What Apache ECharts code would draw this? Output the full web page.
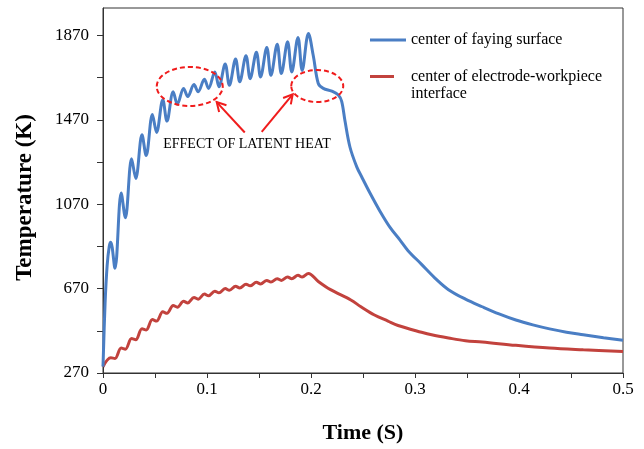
<!DOCTYPE html>
<html><head><meta charset="utf-8">
<script src="https://cdn.jsdelivr.net/npm/echarts@6/dist/echarts.min.js"></script>
<style>html,body{margin:0;padding:0;background:#fff}#c{width:644px;height:449px}</style>
</head><body><div id="c"></div>
<script>
// ---- data (time in s, temperature in K) ----
const blueName = 'center of faying surface';
const redName = 'center of electrode-workpiece interface';

const tBlue = [0, 0.002, 0.004, 0.006, 0.0075, 0.0115, 0.0175, 0.0215, 0.0275, 0.0315,
  0.0375, 0.0415, 0.0475, 0.0515, 0.0575, 0.0615, 0.0675, 0.0715, 0.0775, 0.0815,
  0.0875, 0.0915, 0.0975, 0.1015, 0.1075, 0.1115, 0.1175, 0.1215, 0.1275, 0.1315,
  0.1375, 0.1415, 0.1475, 0.1515, 0.1575, 0.1615, 0.1675, 0.1715, 0.1775, 0.1815,
  0.1875, 0.1915, 0.1975, 0.2022, 0.207, 0.2118, 0.22, 0.2263, 0.2295, 0.2327,
  0.2375, 0.244, 0.2487, 0.2567, 0.2663, 0.276, 0.2856, 0.2933, 0.3063, 0.3192,
  0.3322, 0.3485, 0.3646, 0.3808, 0.397, 0.4133, 0.4294, 0.4457, 0.4618, 0.4813, 0.5];
const tempBlue = [300, 600, 780, 870, 890, 766, 1123, 1006, 1285, 1192,
  1399, 1301, 1495, 1410, 1565, 1464, 1603, 1544, 1619, 1580,
  1637, 1603, 1662, 1619, 1697, 1627, 1735, 1634, 1758, 1650,
  1774, 1665, 1790, 1673, 1813, 1681, 1828, 1689, 1840, 1697,
  1860, 1704, 1879, 1774, 1642, 1619, 1606, 1588, 1557, 1464,
  1340, 1247, 1200, 1123, 1037, 960, 900, 850, 785, 720,
  665, 620, 584, 550, 521, 498, 479, 463, 451, 437, 425];

const tRed = [0, 0.0075, 0.0115, 0.0175, 0.0215, 0.0275, 0.0315, 0.0375, 0.0415, 0.0475,
  0.0515, 0.0575, 0.0615, 0.0675, 0.0715, 0.0775, 0.0815, 0.0875, 0.0915, 0.0975,
  0.1015, 0.1075, 0.1115, 0.1175, 0.1215, 0.1275, 0.1315, 0.1375, 0.1415, 0.1475,
  0.1515, 0.1575, 0.1615, 0.1675, 0.1715, 0.1775, 0.1815, 0.1875, 0.1915, 0.1975,
  0.207, 0.2188, 0.2383, 0.248, 0.261, 0.274, 0.2837, 0.3063, 0.316, 0.3322,
  0.3485, 0.3646, 0.397, 0.4294, 0.4618, 0.5];
const tempRed = [300, 342, 339, 388, 383, 433, 428, 480, 474, 523,
  516, 560, 553, 590, 582, 610, 602, 628, 620, 644,
  636, 658, 650, 670, 662, 681, 673, 691, 683, 700,
  692, 709, 701, 717, 709, 725, 717, 733, 725, 742,
  704, 665, 616, 584, 545, 516, 495, 463, 451, 436,
  423, 417, 401, 388, 380, 372];

const yLabels = [270, 670, 1070, 1470, 1870];
const yTicks = [270, 470, 670, 870, 1070, 1270, 1470, 1670, 1870];
const xLabels = [0, 0.1, 0.2, 0.3, 0.4, 0.5];
const xTicks = [0, 0.05, 0.1, 0.15, 0.2, 0.25, 0.3, 0.35, 0.4, 0.45, 0.5];

// annotation anchors in data coordinates
const noteText = 'EFFECT OF LATENT HEAT';
const notePos = [0.1385, 1354];
const ellipseCenters = [[0.0834, 1628], [0.206, 1630]];
const arrows = [[[0.1363, 1410], [0.1093, 1554]], [[0.1526, 1413], [0.1824, 1591]]];

const serif = '"Liberation Serif", "Times New Roman", serif';
const blue = '#4a7ec4';
const red = '#c2423d';

const chart = echarts.init(document.getElementById('c'), null, {renderer: 'canvas'});
const zip = (a, b) => a.map((v, i) => [v, b[i]]);

chart.setOption({
  animation: false,
  backgroundColor: '#fff',
  grid: {left: 103, right: 21, top: 8, bottom: 69, show: true, borderColor: '#333', borderWidth: 1, containLabel: false},
  legend: [
    {data: [blueName], left: 370, top: 32, padding: 0, itemWidth: 36, itemHeight: 3, itemGap: 0,
      icon: 'rect',
      textStyle: {fontFamily: serif, fontSize: 16, color: '#000'}},
    {data: [redName], left: 370, top: 68, padding: 0, itemWidth: 24, itemHeight: 20, itemGap: 0,
      icon: 'path://M0,0H24V3H0Z M0,19.99H0.01V20H0Z',
      formatter: n => n.replace(' interface', '\ninterface'),
      textStyle: {fontFamily: serif, fontSize: 16, color: '#000', lineHeight: 17, padding: [0, 0, 0, 12]}}
  ],
  xAxis: {
    type: 'value', min: 0, max: 0.5,
    name: 'Time (S)', nameLocation: 'middle', nameGap: 49,
    nameTextStyle: {fontFamily: serif, fontSize: 22, fontWeight: 'bold', color: '#000'},
    axisLine: {lineStyle: {color: '#333', width: 1}},
    axisTick: {customValues: xTicks, length: 5, lineStyle: {color: '#333'}},
    axisLabel: {customValues: xLabels, margin: 8, fontFamily: serif, fontSize: 17, color: '#000',
      formatter: v => String(v)},
    splitLine: {show: false}
  },
  yAxis: {
    type: 'value', min: 270, max: 2000,
    name: 'Temperature (K)', nameLocation: 'middle', nameGap: 66,
    nameTextStyle: {fontFamily: serif, fontSize: 23, fontWeight: 'bold', color: '#000', padding: [0, 14, 0, 0]},
    axisLine: {show: true, lineStyle: {color: '#333', width: 1}},
    axisTick: {show: true, customValues: yTicks, length: 6, lineStyle: {color: '#333'}},
    axisLabel: {customValues: yLabels, margin: 14, fontFamily: serif, fontSize: 17, color: '#000',
      formatter: v => String(v)},
    splitLine: {show: false}
  },
  series: [
    {name: blueName, type: 'line', data: zip(tBlue, tempBlue), symbol: 'none', smooth: 0.35,
      lineStyle: {color: blue, width: 3}, itemStyle: {color: blue}, z: 3},
    {name: redName, type: 'line', data: zip(tRed, tempRed), symbol: 'none', smooth: 0.35,
      lineStyle: {color: red, width: 3}, itemStyle: {color: red}, z: 2}
  ]
});

function px(p) { return chart.convertToPixel({gridIndex: 0}, p); }
const g = [];
const radii = [[33, 19.5], [26, 16]];
ellipseCenters.forEach((c, i) => {
  const p = px(c);
  g.push({type: 'ellipse', shape: {cx: p[0], cy: p[1], rx: radii[i][0], ry: radii[i][1]},
    style: {fill: 'none', stroke: '#f01c1c', lineWidth: 2, lineDash: [5, 3]}, z: 10});
});
arrows.forEach(a => {
  const s = px(a[0]), e = px(a[1]);
  const dx = e[0] - s[0], dy = e[1] - s[1], L = Math.hypot(dx, dy);
  const ux = dx / L, uy = dy / L, nx = -uy, ny = ux;
  g.push({type: 'line', shape: {x1: s[0], y1: s[1], x2: e[0], y2: e[1]},
    style: {stroke: '#f01c1c', lineWidth: 2}, z: 10});
  g.push({type: 'polyline', shape: {points: [
      [e[0] - 9 * ux + 5 * nx, e[1] - 9 * uy + 5 * ny], [e[0], e[1]],
      [e[0] - 9 * ux - 5 * nx, e[1] - 9 * uy - 5 * ny]]},
    style: {stroke: '#f01c1c', lineWidth: 2, fill: 'none'}, z: 10});
});
const np = px(notePos);
g.push({type: 'text', x: np[0], y: np[1], style: {text: noteText, fontFamily: serif, fontSize: 14,
  fill: '#000', align: 'center', verticalAlign: 'middle'}, z: 10});
chart.setOption({graphic: g});
</script></body></html>
